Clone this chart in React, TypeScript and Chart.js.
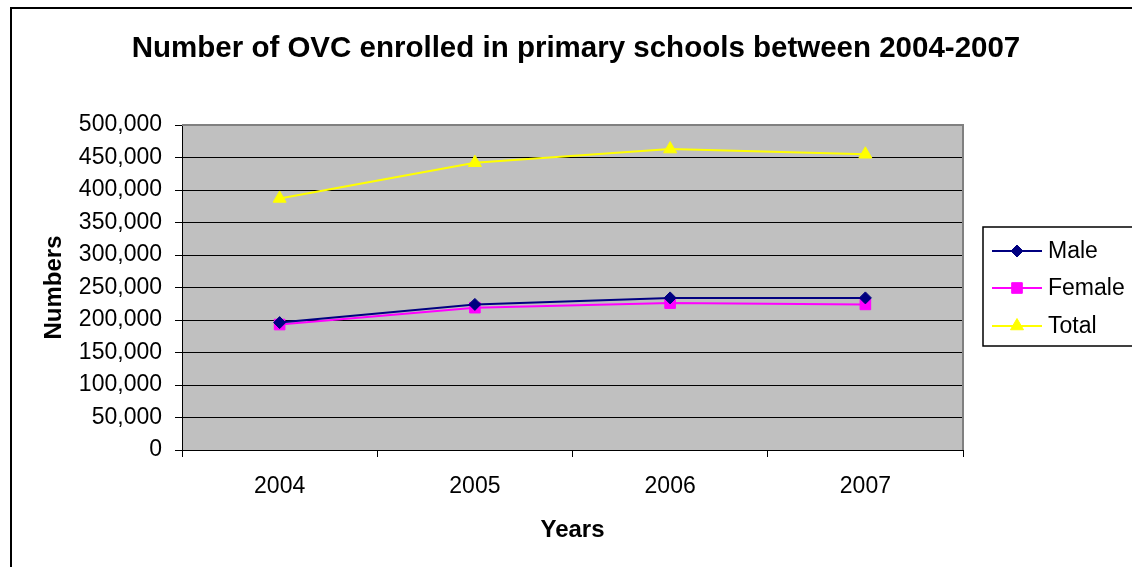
import React, { useEffect, useRef } from "react";
import { Chart, registerables } from "chart.js";
import { drawPoint } from "chart.js/helpers";

Chart.register(...registerables);

const years = ["2004", "2005", "2006", "2007"];
const male = [196000, 224000, 234000, 234000];
const female = [193000, 219000, 226000, 224000];
const total = [387000, 442000, 463000, 455000];

const chartTitle = "Number of OVC enrolled in primary schools between 2004-2007";
const xTitle = "Years";
const yTitle = "Numbers";

const FONT = "'Liberation Sans', Arial, sans-serif";

const frame = {
  id: "frame",
  beforeDraw(chart: any) {
    const { ctx, chartArea: a } = chart;
    ctx.save();
    ctx.fillStyle = "#ffffff";
    ctx.fillRect(0, 0, chart.width, chart.height);
    // outer chart border
    ctx.strokeStyle = "#000000";
    ctx.lineWidth = 2;
    ctx.strokeRect(11, 8, chart.width + 20, chart.height + 20);
    // plot background
    ctx.fillStyle = "#C0C0C0";
    ctx.fillRect(a.left, a.top, a.right - a.left, a.bottom - a.top);
    ctx.restore();
  },
  beforeDatasetsDraw(chart: any) {
    const { ctx, chartArea: a } = chart;
    ctx.save();
    ctx.strokeStyle = "#808080";
    ctx.lineWidth = 2;
    ctx.beginPath();
    ctx.moveTo(a.left, a.top);
    ctx.lineTo(a.right, a.top);
    ctx.lineTo(a.right, a.bottom);
    ctx.stroke();
    ctx.restore();
  },
  afterDraw(chart: any) {
    const { ctx, chartArea: a } = chart;
    ctx.save();
    ctx.fillStyle = "#000000";
    ctx.textAlign = "center";
    ctx.textBaseline = "alphabetic";
    ctx.font = `bold 29.5px ${FONT}`;
    ctx.fillText(chartTitle, 576, 57);
    ctx.font = `bold 24px ${FONT}`;
    ctx.fillText(xTitle, (a.left + a.right) / 2, 537);
    ctx.translate(61, (a.top + a.bottom) / 2);
    ctx.rotate(-Math.PI / 2);
    ctx.fillText(yTitle, 0, 0);
    ctx.restore();

    // legend
    ctx.save();
    ctx.strokeStyle = "#000000";
    ctx.lineWidth = 1.5;
    ctx.strokeRect(983, 227, 200, 119);
    const rows = [251, 288, 326];
    chart.data.datasets.forEach((ds: any, i: number) => {
      const y = rows[i];
      ctx.strokeStyle = ds.borderColor;
      ctx.lineWidth = ds.borderWidth;
      ctx.beginPath();
      ctx.moveTo(992, y);
      ctx.lineTo(1042, y);
      ctx.stroke();
      ctx.fillStyle = ds.pointBackgroundColor;
      ctx.strokeStyle = ds.pointBorderColor;
      ctx.lineWidth = 1;
      drawPoint(ctx, { pointStyle: ds.pointStyle, radius: ds.pointRadius, borderWidth: 1, rotation: 0 }, 1017, y);
      ctx.fillStyle = "#000000";
      ctx.font = `23px ${FONT}`;
      ctx.textAlign = "left";
      ctx.textBaseline = "middle";
      ctx.fillText(ds.label, 1048, y + 1);
    });
    ctx.restore();
  },
};

export default function App() {
  const ref = useRef<HTMLCanvasElement>(null);

  useEffect(() => {
    document.body.style.margin = "0";
    const chart = new Chart(ref.current as HTMLCanvasElement, {
      type: "line",
      data: {
        labels: years,
        datasets: [
          {
            label: "Male",
            data: male,
            borderColor: "#000080",
            backgroundColor: "#000080",
            pointBackgroundColor: "#000080",
            pointBorderColor: "#000080",
            borderWidth: 2,
            pointStyle: "rectRot",
            pointRadius: 6,
            pointBorderWidth: 1,
          },
          {
            label: "Female",
            data: female,
            borderColor: "#FF00FF",
            backgroundColor: "#FF00FF",
            pointBackgroundColor: "#FF00FF",
            pointBorderColor: "#FF00FF",
            borderWidth: 2,
            pointStyle: "rect",
            pointRadius: 7.5,
            pointBorderWidth: 1,
          },
          {
            label: "Total",
            data: total,
            borderColor: "#FFFF00",
            backgroundColor: "#FFFF00",
            pointBackgroundColor: "#FFFF00",
            pointBorderColor: "#FFFF00",
            borderWidth: 2,
            pointStyle: "triangle",
            pointRadius: 7.5,
            pointBorderWidth: 1,
          },
        ] as any,
      },
      options: {
        responsive: false,
        animation: false,
        devicePixelRatio: 1,
        layout: { padding: { left: 0, right: 169, top: 125, bottom: 0 } },
        plugins: { legend: { display: false }, title: { display: false }, tooltip: { enabled: false } },
        scales: {
          x: {
            type: "category",
            offset: true,
            afterFit: (s: any) => {
              s.height = 117;
            },
            grid: { offset: true, drawOnChartArea: false, drawTicks: true, tickLength: 7, color: "#000000" },
            border: { color: "#000000", width: 1 },
            ticks: { color: "#000000", font: { family: FONT, size: 23 }, padding: 16, maxRotation: 0 },
          },
          y: {
            min: 0,
            max: 500000,
            afterFit: (s: any) => {
              s.width = 182;
            },
            grid: { color: "#000000", drawTicks: true, tickLength: 7 },
            border: { color: "#000000", width: 1 },
            ticks: {
              stepSize: 50000,
              color: "#000000",
              font: { family: FONT, size: 23 },
              padding: 13,
              callback: (v: any) => Number(v).toLocaleString("en-US"),
            },
          },
        },
      },
      plugins: [frame],
    });
    return () => chart.destroy();
  }, []);

  return (
    <div style={{ position: "fixed", left: 0, top: 0, width: 1132, height: 567 }}>
      <canvas ref={ref} width={1132} height={567} />
    </div>
  );
}
